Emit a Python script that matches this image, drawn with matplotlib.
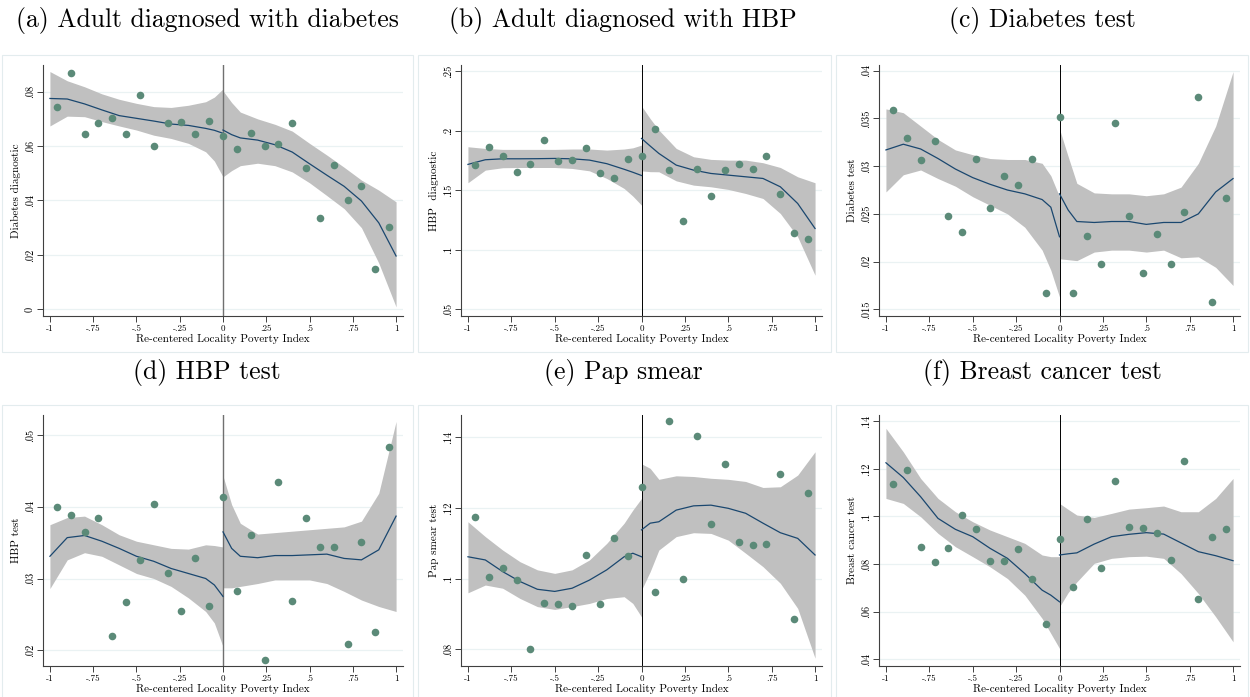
import matplotlib.pyplot as plt
from matplotlib.patches import Rectangle

plt.rcParams['font.family'] = 'cmr10'
plt.rcParams['axes.unicode_minus'] = False

# bin centres of the scatter points
bins = [-0.96, -0.88, -0.80, -0.72, -0.64, -0.56, -0.48, -0.40, -0.32, -0.24, -0.16, -0.08,
        0.0, 0.08, 0.16, 0.24, 0.32, 0.40, 0.48, 0.56, 0.64, 0.72, 0.80, 0.88, 0.96]
# x positions where the fitted curve / CI were read
xl = [-1, -0.9, -0.8, -0.7, -0.6, -0.5, -0.4, -0.3, -0.2, -0.1, -0.05, 0]
xr = [0, 0.05, 0.1, 0.2, 0.3, 0.4, 0.5, 0.6, 0.7, 0.8, 0.9, 1.0]

xticks = [-1, -0.75, -0.5, -0.25, 0, 0.25, 0.5, 0.75, 1]
xticklabels = ['-1', '-.75', '-.5', '-.25', '0', '.25', '.5', '.75', '1']

titles = ['(a) Adult diagnosed with diabetes', '(b) Adult diagnosed with HBP', '(c) Diabetes test',
          '(d) HBP test', '(e) Pap smear', '(f) Breast cancer test']
ylabels = ['Diabetes diagnostic', 'HBP  diagnostic', 'Diabetes test',
           'HBP test', 'Pap smear test', 'Breast cancer test']

# (a) diabetes diagnostic
a_pts = [0.0745, 0.0867, 0.0645, 0.0683, 0.0703, 0.0644, 0.0788, 0.0602, 0.0686, 0.0687, 0.0644, 0.0694,
         0.0638, 0.0591, 0.0648, 0.0602, 0.0606, 0.0686, 0.0521, 0.0337, 0.0531, 0.0402, 0.0453, 0.0147, 0.0304]
a_fit_l = [0.0775, 0.0773, 0.0755, 0.0733, 0.0712, 0.0702, 0.0692, 0.0681, 0.0676, 0.0665, 0.0658, 0.0647]
a_hi_l = [0.0874, 0.0840, 0.0818, 0.0792, 0.0772, 0.0757, 0.0745, 0.0742, 0.0750, 0.0763, 0.0780, 0.0810]
a_lo_l = [0.0674, 0.0710, 0.0708, 0.0690, 0.0674, 0.0659, 0.0640, 0.0628, 0.0610, 0.0579, 0.0545, 0.0487]
a_fit_r = [0.0659, 0.0642, 0.0630, 0.0622, 0.0605, 0.0578, 0.0535, 0.0493, 0.0452, 0.0398, 0.0318, 0.0196]
a_hi_r = [0.0803, 0.0760, 0.0725, 0.0700, 0.0680, 0.0655, 0.0610, 0.0567, 0.0522, 0.0475, 0.0438, 0.0395]
a_lo_r = [0.0487, 0.0510, 0.0528, 0.0537, 0.0528, 0.0505, 0.0465, 0.0418, 0.0370, 0.0300, 0.0170, 0.0009]

# (b) HBP diagnostic
b_pts = [0.1707, 0.1864, 0.1786, 0.1654, 0.1718, 0.1920, 0.1741, 0.1752, 0.1853, 0.1643, 0.1606, 0.1763,
         0.1789, 0.2013, 0.1668, 0.1242, 0.1676, 0.1455, 0.1671, 0.1718, 0.1676, 0.1783, 0.1464, 0.1144, 0.1094]
b_fit_l = [0.1716, 0.1755, 0.1763, 0.1763, 0.1764, 0.1766, 0.1763, 0.1752, 0.1722, 0.1675, 0.1650, 0.1623]
b_hi_l = [0.1864, 0.1850, 0.1842, 0.1842, 0.1842, 0.1842, 0.1845, 0.1845, 0.1836, 0.1845, 0.1855, 0.1878]
b_lo_l = [0.1562, 0.1668, 0.1688, 0.1690, 0.1690, 0.1690, 0.1682, 0.1662, 0.1598, 0.1514, 0.1450, 0.1374]
b_fit_r = [0.1934, 0.1870, 0.1808, 0.1710, 0.1668, 0.1640, 0.1626, 0.1612, 0.1598, 0.1528, 0.1388, 0.1178]
b_hi_r = [0.2206, 0.2100, 0.2004, 0.1850, 0.1780, 0.1758, 0.1752, 0.1752, 0.1730, 0.1690, 0.1612, 0.1562]
b_lo_r = [0.1662, 0.1655, 0.1654, 0.1578, 0.1542, 0.1528, 0.1506, 0.1472, 0.1430, 0.1304, 0.1108, 0.0786]

# (c) diabetes test
c_pts = [0.0359, 0.0329, 0.0306, 0.0326, 0.0248, 0.0231, 0.0308, 0.0256, 0.0290, 0.0280, 0.0307, 0.0167,
         0.0352, 0.0167, 0.0227, 0.0197, 0.0345, 0.0248, 0.0188, 0.0229, 0.0197, 0.0252, 0.0372, 0.0158, 0.0267]
c_fit_l = [0.0317, 0.0323, 0.0318, 0.0308, 0.0297, 0.0288, 0.0281, 0.0275, 0.0271, 0.0265, 0.0257, 0.0226]
c_hi_l = [0.0360, 0.0356, 0.0342, 0.0328, 0.0317, 0.0312, 0.0308, 0.0307, 0.0307, 0.0303, 0.0290, 0.0268]
c_lo_l = [0.0273, 0.0291, 0.0296, 0.0287, 0.0279, 0.0268, 0.0259, 0.0250, 0.0236, 0.0212, 0.0191, 0.0163]
c_fit_r = [0.0271, 0.0254, 0.0242, 0.0241, 0.0242, 0.0242, 0.0239, 0.0241, 0.0241, 0.0250, 0.0273, 0.0287]
c_hi_r = [0.0339, 0.0310, 0.0282, 0.0272, 0.0271, 0.0271, 0.0269, 0.0271, 0.0278, 0.0303, 0.0342, 0.0399]
c_lo_r = [0.0203, 0.0202, 0.0201, 0.0210, 0.0212, 0.0212, 0.0210, 0.0212, 0.0204, 0.0205, 0.0194, 0.0175]

# (d) HBP test
d_pts = [0.0400, 0.0389, 0.0365, 0.0385, 0.0220, 0.0267, 0.0326, 0.0404, 0.0307, 0.0255, 0.0328, 0.0262,
         0.0414, 0.0282, 0.0360, 0.0187, 0.0434, 0.0269, 0.0385, 0.0344, 0.0344, 0.0209, 0.0351, 0.0225, 0.0484]
d_fit_l = [0.0331, 0.0357, 0.0360, 0.0352, 0.0342, 0.0331, 0.0324, 0.0314, 0.0307, 0.0300, 0.0291, 0.0275]
d_hi_l = [0.0375, 0.0385, 0.0387, 0.0375, 0.0361, 0.0352, 0.0347, 0.0342, 0.0341, 0.0347, 0.0346, 0.0344]
d_lo_l = [0.0286, 0.0326, 0.0336, 0.0331, 0.0319, 0.0307, 0.0300, 0.0289, 0.0273, 0.0254, 0.0238, 0.0205]
d_fit_r = [0.0365, 0.0342, 0.0331, 0.0329, 0.0332, 0.0332, 0.0333, 0.0334, 0.0328, 0.0326, 0.0340, 0.0387]
d_hi_r = [0.0443, 0.0403, 0.0377, 0.0362, 0.0364, 0.0366, 0.0368, 0.0370, 0.0372, 0.0380, 0.0419, 0.0519]
d_lo_r = [0.0287, 0.0287, 0.0289, 0.0293, 0.0298, 0.0298, 0.0298, 0.0293, 0.0282, 0.0270, 0.0261, 0.0254]

# (e) pap smear
e_pts = [0.1175, 0.1004, 0.1029, 0.0996, 0.0801, 0.0932, 0.0929, 0.0923, 0.1067, 0.0927, 0.1116, 0.1065,
         0.1258, 0.0961, 0.1445, 0.1000, 0.1404, 0.1154, 0.1323, 0.1105, 0.1094, 0.1099, 0.1297, 0.0887, 0.1242]
e_fit_l = [0.1062, 0.1053, 0.1020, 0.0992, 0.0970, 0.0964, 0.0973, 0.0996, 0.1025, 0.1062, 0.1072, 0.1062]
e_hi_l = [0.1161, 0.1119, 0.1081, 0.1048, 0.1025, 0.1015, 0.1025, 0.1053, 0.1100, 0.1157, 0.1194, 0.1227]
e_lo_l = [0.0960, 0.0982, 0.0973, 0.0944, 0.0921, 0.0913, 0.0921, 0.0930, 0.0944, 0.0949, 0.0930, 0.0892]
e_fit_r = [0.1138, 0.1157, 0.1161, 0.1194, 0.1206, 0.1208, 0.1199, 0.1185, 0.1157, 0.1130, 0.1114, 0.1067]
e_hi_r = [0.1325, 0.1312, 0.1281, 0.1291, 0.1289, 0.1284, 0.1281, 0.1275, 0.1258, 0.1260, 0.1293, 0.1359]
e_lo_r = [0.0968, 0.1020, 0.1081, 0.1119, 0.1130, 0.1128, 0.1109, 0.1072, 0.1034, 0.0987, 0.0916, 0.0775]

# (f) breast cancer test
f_pts = [0.1138, 0.1194, 0.0873, 0.0807, 0.0867, 0.1007, 0.0948, 0.0814, 0.0811, 0.0863, 0.0738, 0.0547,
         0.0905, 0.0704, 0.0990, 0.0784, 0.1150, 0.0955, 0.0953, 0.0929, 0.0817, 0.1232, 0.0652, 0.0915, 0.0948]
f_fit_l = [0.1226, 0.1164, 0.1083, 0.0992, 0.0946, 0.0915, 0.0866, 0.0824, 0.0760, 0.0690, 0.0669, 0.0641]
f_hi_l = [0.1371, 0.1272, 0.1160, 0.1076, 0.1020, 0.0978, 0.0943, 0.0915, 0.0887, 0.0838, 0.0831, 0.0831]
f_lo_l = [0.1076, 0.1055, 0.0999, 0.0929, 0.0873, 0.0831, 0.0788, 0.0739, 0.0669, 0.0571, 0.0508, 0.0445]
f_fit_r = [0.0838, 0.0843, 0.0847, 0.0884, 0.0915, 0.0925, 0.0932, 0.0926, 0.0889, 0.0852, 0.0835, 0.0814]
f_hi_r = [0.1055, 0.1030, 0.1006, 0.0996, 0.1013, 0.1031, 0.1037, 0.1044, 0.1020, 0.1020, 0.1076, 0.1160]
f_lo_r = [0.0620, 0.0680, 0.0725, 0.0803, 0.0824, 0.0831, 0.0833, 0.0824, 0.0760, 0.0676, 0.0578, 0.0473]

yticks = [[0, 0.02, 0.04, 0.06, 0.08], [0.05, 0.1, 0.15, 0.2, 0.25],
          [0.015, 0.02, 0.025, 0.03, 0.035, 0.04], [0.02, 0.03, 0.04, 0.05],
          [0.08, 0.1, 0.12, 0.14], [0.04, 0.06, 0.08, 0.1, 0.12, 0.14]]
yticklabels = [['0', '.02', '.04', '.06', '.08'], ['.05', '.1', '.15', '.2', '.25'],
               ['.015', '.02', '.025', '.03', '.035', '.04'], ['.02', '.03', '.04', '.05'],
               ['.08', '.1', '.12', '.14'], ['.04', '.06', '.08', '.1', '.12', '.14']]
ylims = [(-0.00245, 0.0898), (0.0444, 0.255), (0.0143, 0.0406),
         (0.0178, 0.0528), (0.0753, 0.1463), (0.0371, 0.1427)]

pts = [a_pts, b_pts, c_pts, d_pts, e_pts, f_pts]
fits_l = [a_fit_l, b_fit_l, c_fit_l, d_fit_l, e_fit_l, f_fit_l]
his_l = [a_hi_l, b_hi_l, c_hi_l, d_hi_l, e_hi_l, f_hi_l]
los_l = [a_lo_l, b_lo_l, c_lo_l, d_lo_l, e_lo_l, f_lo_l]
fits_r = [a_fit_r, b_fit_r, c_fit_r, d_fit_r, e_fit_r, f_fit_r]
his_r = [a_hi_r, b_hi_r, c_hi_r, d_hi_r, e_hi_r, f_hi_r]
los_r = [a_lo_r, b_lo_r, c_lo_r, d_lo_r, e_lo_r, f_lo_r]
cutoff_col = ['#707070', 'black', 'black', '#707070', 'black', 'black']

W, H = 1250, 697
fig = plt.figure(figsize=(12.5, 6.97), dpi=100)

# axes boxes in pixels: left, right, top, bottom
ax_px = [(43, 403, 65, 316), (461, 822, 65, 316), (879, 1240, 65, 316),
         (43, 403, 415, 666), (461, 822, 415, 666), (879, 1240, 415, 666)]
box_px = [(2, 413, 55, 352), (418, 831, 55, 352), (836, 1248, 55, 352),
          (2, 413, 405, 700), (418, 831, 405, 700), (836, 1248, 405, 700)]
title_px = [(207, 21), (623, 21), (1042, 21), (207, 372), (623, 372), (1042, 372)]

for i in range(6):
    bl, br, bt, bb = box_px[i]
    fig.add_artist(Rectangle((bl / W, 1 - bb / H), (br - bl) / W, (bb - bt) / H,
                             transform=fig.transFigure, fill=False, ec='#e3ecee', lw=0.8))
    tx, ty = title_px[i]
    fig.text(tx / W, 1 - ty / H, titles[i], fontsize=18.5, ha='center', va='center')

    l, r, t, b = ax_px[i]
    ax = fig.add_axes([l / W, 1 - b / H, (r - l) / W, (b - t) / H])
    ax.fill_between(xl, los_l[i], his_l[i], color='#c0c0c0', lw=0, zorder=1)
    ax.fill_between(xr, los_r[i], his_r[i], color='#c0c0c0', lw=0, zorder=1)
    ax.plot(xl, fits_l[i], color='#1a476f', lw=0.9, zorder=3)
    ax.plot(xr, fits_r[i], color='#1a476f', lw=0.9, zorder=3)
    ax.scatter(bins, pts[i], s=30, color='#5b8a78', lw=0, zorder=4)
    ax.axvline(0, color=cutoff_col[i], lw=1.0 if cutoff_col[i] != 'black' else 0.7, zorder=2)

    ax.set_xlim(-1.04, 1.04)
    ax.set_ylim(*ylims[i])
    ax.set_xticks(xticks)
    ax.set_xticklabels(xticklabels, fontsize=6.5)
    ax.set_yticks(yticks[i])
    ax.set_yticklabels(yticklabels[i], fontsize=7.5, rotation=90, va='center')
    ax.grid(axis='y', color='#eaf2f3', lw=0.9, zorder=0)
    ax.set_axisbelow(True)
    for s in ['top', 'right']:
        ax.spines[s].set_visible(False)
    for s in ['left', 'bottom']:
        ax.spines[s].set_color('#404040')
        ax.spines[s].set_linewidth(0.8)
    ax.tick_params(length=4, width=0.7, color='#404040', pad=2)
    ax.set_xlabel('Re-centered Locality Poverty Index', fontsize=8, labelpad=1)
    ax.set_ylabel(ylabels[i], fontsize=8, labelpad=3)

fig.savefig('out.png', dpi=100)
